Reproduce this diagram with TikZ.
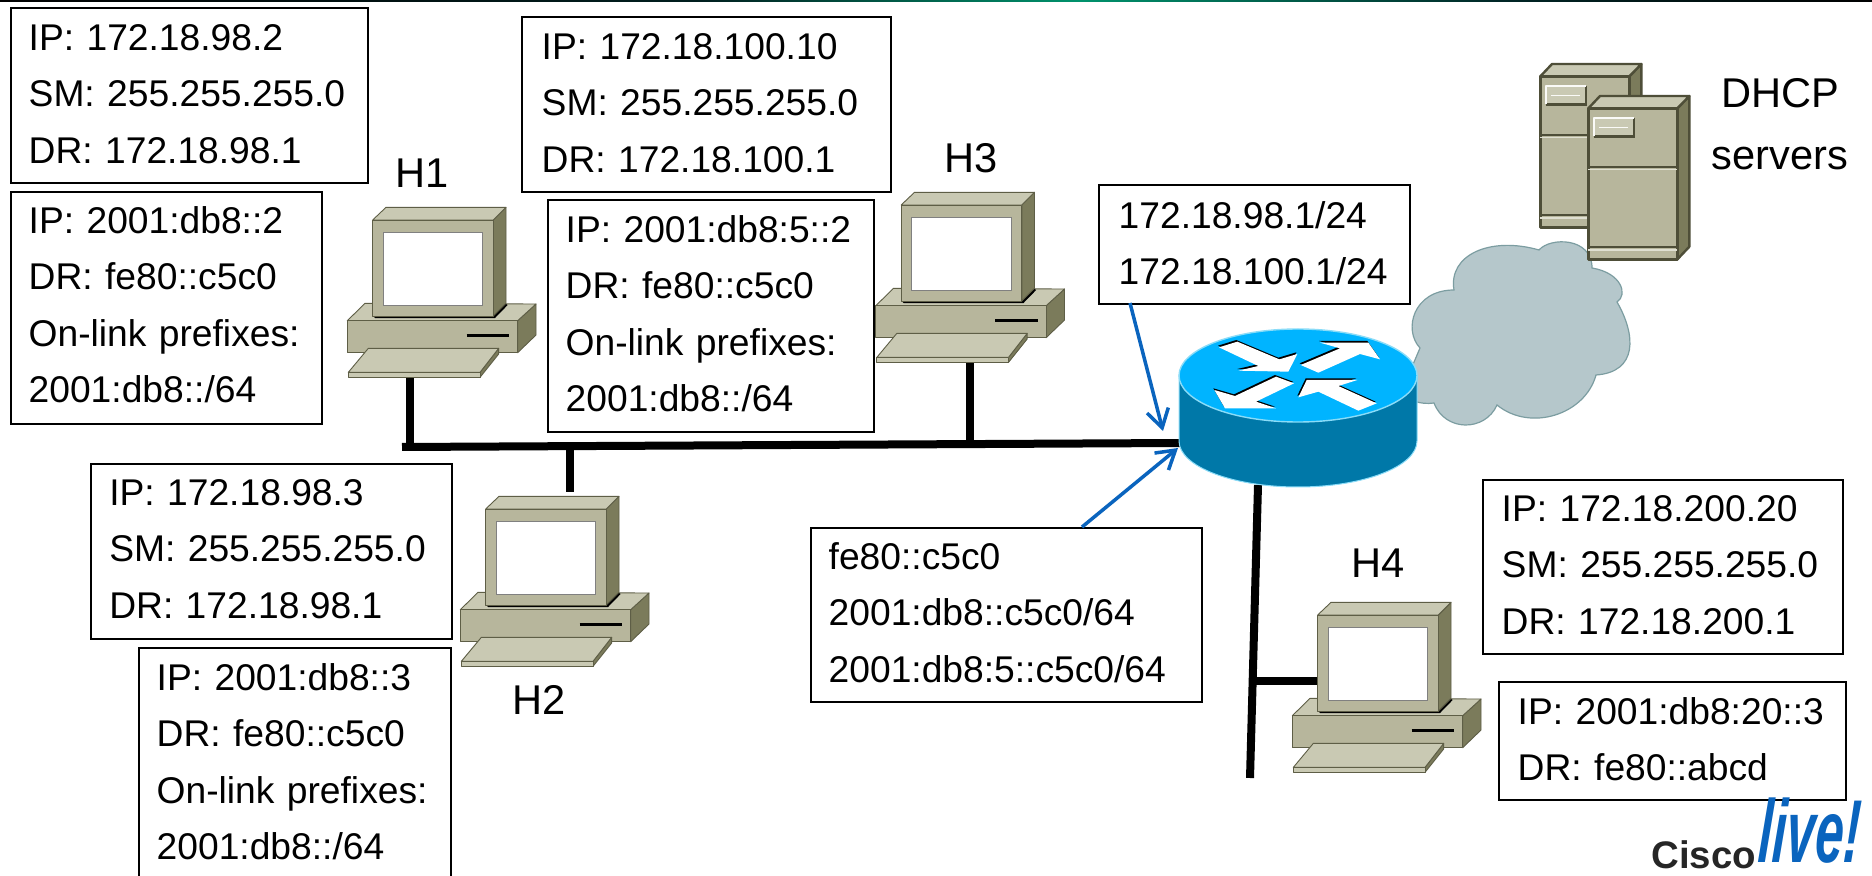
\documentclass[tikz,border=0pt]{standalone}
\usepackage{fontspec}
\setmainfont{Liberation Sans}
\usetikzlibrary{arrows.meta}
\definecolor{pcface}{HTML}{B7B69C}
\definecolor{pctop}{HTML}{C9C9B3}
\definecolor{pcside}{HTML}{7B7B5B}
\definecolor{pcline}{HTML}{5E5E46}
\definecolor{srvline}{HTML}{4E4E38}
\definecolor{rtop}{HTML}{00B4FF}
\definecolor{rside}{HTML}{0078A8}
\definecolor{rglow}{HTML}{8ADCF8}
\definecolor{cloudfill}{HTML}{B5C7CB}
\definecolor{cloudline}{HTML}{7C9DA1}
\definecolor{linkblue}{HTML}{0A64BE}
\tikzset{
  x=.5pt,y=-.5pt,
  labeltext/.style={font=\fontsize{20.8}{24}\selectfont,inner sep=0,anchor=base},
  wire/.style={line width=4pt,black},
  pointer/.style={line width=1.75pt,linkblue,-{Straight Barb[length=9pt,width=11pt,line width=1.75pt]}},
  pcpart/.style={draw=pcline,line width=.45pt,line join=round},
}
% name, x1,y1,x2,y2, text x, first baseline, text
\newcommand\ibox[8]{%
  \pgfmathsetmacro\bw{(#4-#2)*.5}%
  \pgfmathsetmacro\bh{(#7-#3)*.5}%
  \pgfmathsetmacro\bd{(#5-#7)*.5}%
  \pgfmathsetmacro\bl{(#6-#2-2.5)*.5}%
  \node[draw=black,fill=white,line width=1.2pt,anchor=north west,inner sep=0,
        text width=\bw pt,align=left,text height=\bh pt,text depth=\bd pt,
        font=\fontsize{18.6}{28.25}\selectfont] (#1) at (#2,#3)
        {\leftskip=\bl pt\relax #8\par};%
}
\newcommand\computer[2]{%
\begin{scope}[shift={(#1,#2)},x=.16667pt,y=-.16667pt]
  % base
  \fill[pcside,pcpart] (533,392)--(588,342)--(588,435)--(533,488)--cycle;
  \fill[pctop,pcpart] (22,392)--(75,340)--(588,342)--(533,392)--cycle;
  \fill[pcface,pcpart] (22,392) rectangle (533,488);
  \fill[black] (100,378)--(460,378)--(495,340)--(503,345)--(465,384)--(105,384)--cycle;
  \draw[black,line width=1.5pt] (380,436)--(507,436);
  % monitor
  \fill[pcside,pcpart] (460,90)--(498,52)--(498,340)--(460,378)--cycle;
  \fill[pctop,pcpart] (98,90)--(138,52)--(498,52)--(460,90)--cycle;
  \fill[pcface,pcpart] (98,90) rectangle (460,378);
  \fill[white,draw=gray,line width=.4pt] (130,128) rectangle (428,346);
  % keyboard
  \fill[pcside,pcpart] (420,547)--(476,475)--(476,492)--(420,562)--cycle;
  \fill[pctop,pcpart] (25,547)--(85,475)--(476,475)--(420,547)--cycle;
  \fill[pctop,pcpart] (25,547) rectangle (420,562);
\end{scope}}
\newcommand\server[2]{%
\begin{scope}[shift={(#1,#2)},x=.16667pt,y=-.16667pt,line join=round]
  \fill[pcside,draw=srvline,line width=1.2pt] (472,175)--(508,138)--(508,590)--(472,628)--cycle;
  \fill[pctop,draw=srvline,line width=1.2pt] (205,175)--(240,138)--(508,138)--(472,175)--cycle;
  \fill[pcface,draw=srvline,line width=1.2pt] (205,175) rectangle (472,628);
  \draw[srvline,line width=.9pt] (205,352)--(472,352);
  \draw[pctop!60!white,line width=.6pt] (205,358)--(472,358);
  \draw[srvline,line width=.9pt] (205,592)--(472,592);
  \draw[pctop!60!white,line width=.6pt] (205,600)--(472,600);
  \fill[srvline] (222,205) rectangle (344,264);
  \fill[pctop] (222,202) rectangle (338,256);
  \draw[white!90!pctop,line width=.9pt] (222,258)--(222,203)--(342,203);
  \draw[white!90!pctop,line width=.6pt] (237,232)--(325,232);
\end{scope}}
\newcommand\flecha[1]{%
  \fill[black,shift={(-3,-5)}] #1 --cycle;
  \fill[white] #1 --cycle;}
\begin{document}
\begin{tikzpicture}
\clip (0,0) rectangle (1872,876);
\fill[white] (0,0) rectangle (1872,876);
% top strip
\fill[left color=black,right color=black!60!cyan!30!black] (0,0) rectangle (700,1.6);
\fill[left color=black!60!cyan!30!black,right color=teal!85!green] (700,0) rectangle (1080,1.6);
\fill[left color=teal!85!green,right color=black!70!teal] (1080,0) rectangle (1500,1.6);
\fill[left color=black!70!teal,right color=black] (1500,0) rectangle (1872,1.6);

% named connection points
\coordinate (busL) at (402,447);
\coordinate (busR) at (1180,443);
\coordinate (j1) at (410,447);
\coordinate (j2) at (570,446);
\coordinate (j3) at (970,444);
\coordinate (p1) at (410,377);
\coordinate (p2) at (570,492);
\coordinate (p3) at (970,361);
\coordinate (v4T) at (1258,485);
\coordinate (v4B) at (1250,778);
\coordinate (j4) at (1254,681);
\coordinate (p4) at (1318,681);
\coordinate (tipA) at (1163,431);
\coordinate (tipB) at (1178,448);

% wires
\draw[wire] (p1)--(j1);
\draw[wire] (p2)--(j2);
\draw[wire] (p3)--(j3);
\draw[wire] (busL)--(busR);
\draw[wire] (v4T)--(v4B);
\draw[wire,line width=3.6pt] (j4)--(p4);

% cloud
\fill[cloudfill,draw=cloudline,line width=.6pt]
  (1420,348) .. controls (1403,330) and (1413,290) .. (1454,290)
  .. controls (1448,255) and (1490,236) .. (1539,250)
  .. controls (1550,237) and (1592,237) .. (1592,268)
  .. controls (1622,273) and (1628,295) .. (1617,302)
  .. controls (1636,335) and (1638,372) .. (1596,375)
  .. controls (1585,415) and (1530,432) .. (1497,405)
  .. controls (1485,432) and (1445,432) .. (1434,403)
  .. controls (1420,405) and (1410,400) .. (1400,395) -- cycle;

% servers
\server{1472}{18}
\server{1520}{50}

% router
\node[inner sep=0,minimum width=119pt,minimum height=79pt] (router) at (1298,408) {};
\fill[rside,draw=rglow,line width=.5pt] (1179,375.5) -- (1179,441)
  arc[start angle=180,end angle=360,x radius=59.5pt,y radius=23pt] -- (1417,375.5) -- cycle;
\fill[rtop,draw=rglow,line width=.7pt] (1298,375.5) ellipse [x radius=59.5pt,y radius=23.25pt];
\begin{scope}[shift={(1150,320)},x=.16667pt,y=-.16667pt]
  \flecha{(207,82)--(262,65)--(388,118)--(442,102)--(415,155)--(265,152)--(325,138)}
  \flecha{(452,135)--(570,85)--(510,68)--(655,68)--(690,118)--(630,102)--(505,158)}
  \flecha{(432,190)--(378,170)--(255,228)--(193,210)--(225,265)--(378,265)--(318,245)}
  \flecha{(680,250)--(625,272)--(505,215)--(445,232)--(470,180)--(622,180)--(565,198)}
\end{scope}

% computers
\computer{340}{190}
\computer{868.5}{175}
\computer{453}{479}
\computer{1285}{585}

% address boxes
\ibox{a1}{9.5}{7}{367}{182}{30}{49}{IP: 172.18.98.2\\SM: 255.255.255.0\\DR: 172.18.98.1}
\ibox{a2}{9.5}{191}{321}{423}{30}{232}{IP: 2001:db8::2\\DR: fe80::c5c0\\On-link prefixes:\\2001:db8::/64}
\ibox{a3}{521}{16}{890}{191}{543}{58}{IP: 172.18.100.10\\SM: 255.255.255.0\\DR: 172.18.100.1}
\ibox{a4}{547}{199}{873}{431}{567}{241}{IP: 2001:db8:5::2\\DR: fe80::c5c0\\On-link prefixes:\\2001:db8::/64}
\ibox{a5}{89.6}{463}{450.5}{638}{110.6}{504}{IP: 172.18.98.3\\SM: 255.255.255.0\\DR: 172.18.98.1}
\ibox{a6}{138}{647}{450}{890}{158}{689}{IP: 2001:db8::3\\DR: fe80::c5c0\\On-link prefixes:\\2001:db8::/64}
\ibox{r1}{1098}{184}{1409}{303}{1120}{227}{172.18.98.1/24\\172.18.100.1/24}
\ibox{r2}{810}{527}{1201}{701}{830}{568}{fe80::c5c0\\2001:db8::c5c0/64\\2001:db8:5::c5c0/64}
\ibox{a7}{1482}{479}{1842}{653}{1503}{520}{IP: 172.18.200.20\\SM: 255.255.255.0\\DR: 172.18.200.1}
\ibox{a8}{1498}{681}{1845}{799}{1519}{723}{IP: 2001:db8:20::3\\DR: fe80::abcd}

% pointers
\coordinate (fromA) at (1130,303);
\coordinate (fromB) at (1082,527);
\draw[pointer] (fromA)--(tipA);
\draw[pointer] (fromB)--(tipB);

% labels
\node[labeltext] (h1) at (422,188) {H1};
\node[labeltext] (h2) at (539,714) {H2};
\node[labeltext] (h3) at (971,173) {H3};
\node[labeltext] (h4) at (1378,577) {H4};
\node[labeltext] (dhcp) at (1780,108) {DHCP};
\node[labeltext] (servers) at (1780,170) {servers};

% logo
\node[font=\fontsize{19.2}{22}\selectfont\bfseries,text=black!85,inner sep=0,anchor=base west] (cisco) at (1651,868) {Cisco};
\begin{scope}[shift={(1757,862)},yscale=1.75,xslant=.1]
  \node[font=\fontsize{25.5}{28}\selectfont\bfseries\itshape,text=linkblue,inner sep=0,anchor=base west,transform shape] (live) at (0,0) {live!};
\end{scope}
\end{tikzpicture}
\end{document}
